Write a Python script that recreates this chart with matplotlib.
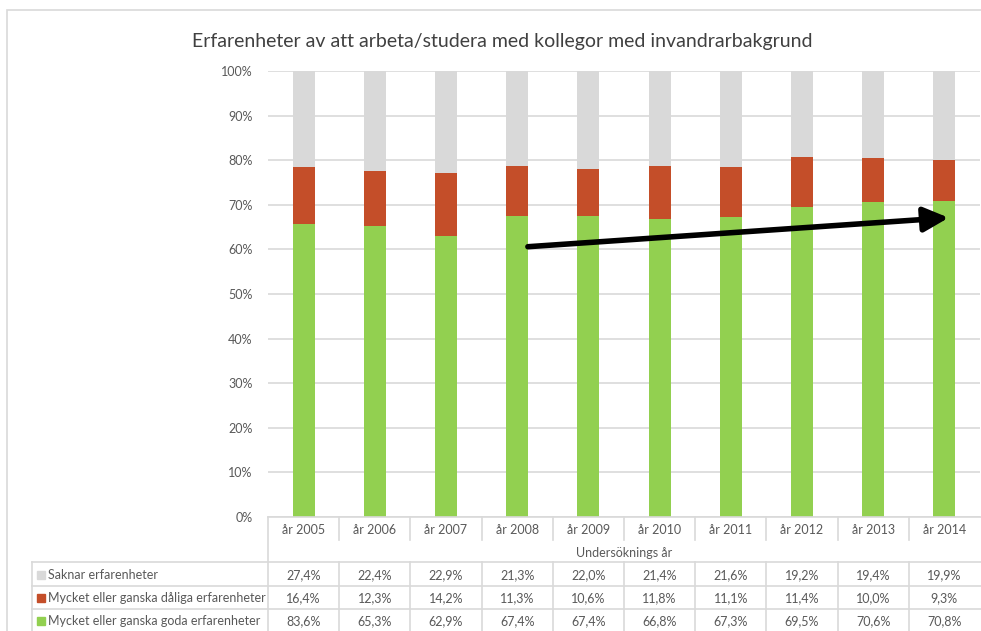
import numpy as np
import matplotlib.pyplot as plt
from matplotlib.patches import Rectangle
from matplotlib.lines import Line2D

plt.rcParams["font.family"] = ["Lato", "DejaVu Sans"]

# Table values (as printed in the chart); bars are a 100% stacked view of them
years = ["år 2005", "år 2006", "år 2007", "år 2008", "år 2009",
         "år 2010", "år 2011", "år 2012", "år 2013", "år 2014"]
saknar = [27.4, 22.4, 22.9, 21.3, 22.0, 21.4, 21.6, 19.2, 19.4, 19.9]
daliga = [16.4, 12.3, 14.2, 11.3, 10.6, 11.8, 11.1, 11.4, 10.0, 9.3]
goda = [83.6, 65.3, 62.9, 67.4, 67.4, 66.8, 67.3, 69.5, 70.6, 70.8]

series_names = ["Saknar erfarenheter",
                "Mycket eller ganska dåliga erfarenheter",
                "Mycket eller ganska goda erfarenheter"]
colors = ["#d9d9d9", "#c44e29", "#92d050"]
txt = "#595959"
grid = "#d9d9d9"

W, H = 981, 631
fig = plt.figure(figsize=(W / 100, H / 100), dpi=100)

# outer chart border (continues past the right/bottom edge of the picture)
fig.add_artist(Rectangle((7 / W, -0.1), 1.2, (H - 10) / H + 0.1, transform=fig.transFigure,
                         fill=False, edgecolor=grid, lw=1.2))

fig.text(502 / W, 1 - 42 / H, "Erfarenheter av att arbeta/studera med kollegor med invandrarbakgrund",
         ha="center", va="center", fontsize=14, color="#404040")

# main plot area
x0, x1, ytop, ybot = 268, 980, 71, 517
ax = fig.add_axes([x0 / W, 1 - ybot / H, (x1 - x0) / W, (ybot - ytop) / H])

g = np.array(goda)
d = np.array(daliga)
s = np.array(saknar)
tot = g + d + s
g_p = g / tot * 100
d_p = d / tot * 100
s_p = s / tot * 100

x = np.arange(len(years))
bw = 0.31
ax.bar(x, g_p, bw, color=colors[2], zorder=3)
ax.bar(x, d_p, bw, bottom=g_p, color=colors[1], zorder=3)
ax.bar(x, s_p, bw, bottom=g_p + d_p, color=colors[0], zorder=3)

ax.set_xlim(-0.5, len(years) - 0.5)
ax.set_ylim(0, 100)
ax.set_yticks(np.arange(0, 101, 10))
ax.set_yticklabels([f"{v}%" for v in range(0, 101, 10)])
ax.set_xticks([])
ax.yaxis.grid(True, color=grid, lw=1.2, zorder=0)
ax.tick_params(axis="y", length=0, pad=11, labelsize=9, labelcolor=txt)
for sp in ax.spines.values():
    sp.set_visible(False)

# trend arrow
ax.annotate("", xy=(9.06, 67.1), xytext=(3.15, 60.6),
            arrowprops=dict(arrowstyle="-|>,head_length=0.75,head_width=0.37",
                            color="black", lw=4, mutation_scale=20, shrinkA=0, shrinkB=0),
            zorder=5)

# data table below the plot
colw = (x1 - x0) / len(years)
tx0 = 32
tab = fig.add_axes([tx0 / W, 0, (x1 - tx0) / W, (H - ybot) / H])
tab.set_xlim(-0.5 - (x0 - tx0) / colw, len(years) - 0.5)
tab.set_ylim(H - ybot, 0)
tab.axis("off")
lx = -0.5 - (x0 - tx0) / colw
right = len(years)

lk = dict(color=grid, lw=1.2, clip_on=False)
# vertical lines
tab.add_line(Line2D([-0.5, -0.5], [0, H - ybot], **lk))
for i in range(1, len(years)):
    xb = i - 0.5
    tab.add_line(Line2D([xb, xb], [0, 23], **lk))
    tab.add_line(Line2D([xb, xb], [45, H - ybot], **lk))
tab.add_line(Line2D([lx, lx], [45, H - ybot], **lk))
# horizontal lines
tab.add_line(Line2D([-0.5, right], [0, 0], **lk))
for yl in [45, 69, 92]:
    tab.add_line(Line2D([lx, right], [yl, yl], **lk))

for i, yr in enumerate(years):
    tab.text(i, 13, yr, ha="center", va="center", fontsize=9, color=txt)
tab.text(4.5, 36, "Undersöknings år", ha="center", va="center", fontsize=9, color=txt)

rows = [saknar, daliga, goda]
row_y = [58, 81, 104]
for name, vals, col, yc in zip(series_names, rows, colors, row_y):
    tab.add_patch(Rectangle((lx + 5 / colw, yc - 4), 8 / colw, 8, color=col, clip_on=False))
    tab.text(lx + 16 / colw, yc, name, ha="left", va="center", fontsize=9, color=txt)
    for i, v in enumerate(vals):
        tab.text(i, yc, f"{v:.1f}%".replace(".", ","), ha="center", va="center",
                 fontsize=9, color=txt)

fig.savefig("out.png", dpi=100)
